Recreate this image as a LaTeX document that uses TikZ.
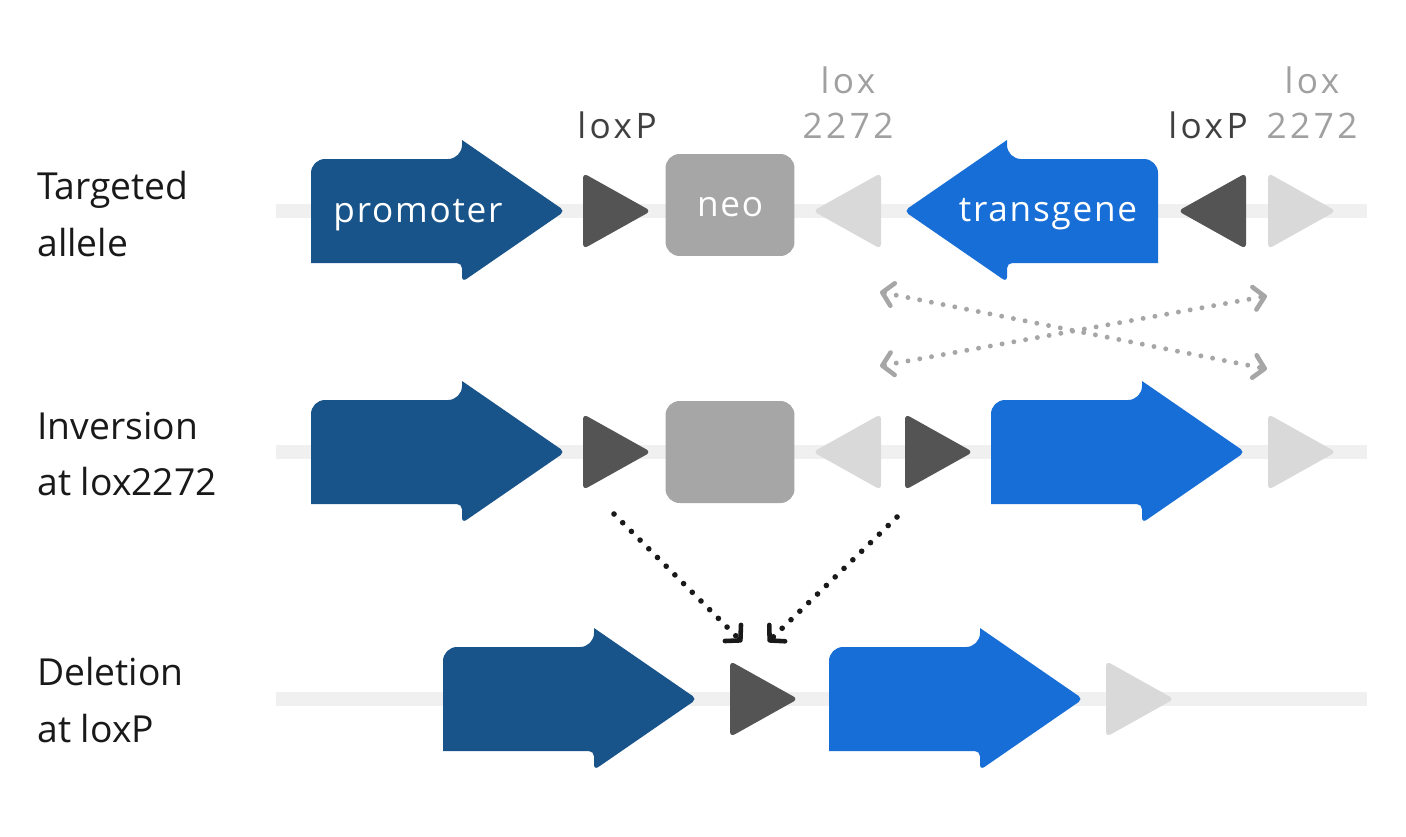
\documentclass[tikz,border=0pt]{standalone}
\usepackage{fontspec}
\setmainfont{Open Sans}
\newfontfamily\sitefont[LetterSpace=10]{Open Sans}
\newfontfamily\genefont[LetterSpace=5]{Open Sans}
\usetikzlibrary{arrows.meta}
\definecolor{promc}{HTML}{18548A}
\definecolor{transc}{HTML}{186ED7}
\definecolor{loxpc}{HTML}{545454}
\definecolor{loxtc}{HTML}{D9D9D9}
\definecolor{neoc}{HTML}{A6A6A6}
\definecolor{backc}{HTML}{EFF0EF}
\definecolor{labpc}{HTML}{404040}
\definecolor{labtc}{HTML}{A0A0A0}

\begin{document}
\begin{tikzpicture}[
    x=0.02cm,y=-0.02cm,
    backbone/.style={draw=backc,line width=8pt},
    gene/.pic={\fill[pic actions] (0,0) [rounded corners=8pt] -- (0,-52) -- (151,-52) [sharp corners] -- (151,-71) [rounded corners=3pt] -- (254,0) -- (151,71) -- (151,52) [sharp corners] -- (0,52) [rounded corners=8pt] -- cycle;},
    site/.pic={\fill[pic actions] (0,0) [rounded corners=3pt] -- (0,-38) -- (68,0) -- (0,38) -- cycle;},
    neobox/.style={fill=neoc,rounded corners=8pt,minimum width=2.58cm,minimum height=2.04cm,inner sep=0pt,text=white},
    genelab/.style={text=white,inner sep=0pt,font=\genefont\fontsize{20}{24}\selectfont},
    sitelab/.style={inner sep=0pt,align=center,font=\sitefont\fontsize{20}{25.5}\selectfont},
    rowlab/.style={anchor=west,inner sep=0pt,align=left,text=black!90,font=\fontsize{21.2}{32.3}\selectfont},
    barb/.style={-{Straight Barb[length=6pt,width=13pt,line width=2.6pt,round]}},
    swap/.style={draw=neoc,line width=2.8pt,line cap=round,dash pattern=on 0pt off 6.8pt,{Straight Barb[length=6pt,width=13pt,line width=2.6pt,round]}-{Straight Barb[length=6pt,width=13pt,line width=2.6pt,round]}},
    merge/.style={draw=black!90,line width=3.2pt,line cap=round,dash pattern=on 0pt off 7pt,barb}
    ]

    \fill[white] (0,0) rectangle (1406,836);
    \useasboundingbox (0,0) rectangle (1406,836);

    % Targeted allele
    \draw[backbone] (276,211) -- (1367,211);
    \pic[fill=promc] at (311,211) {gene};
    \pic[fill=loxpc] at (583,211) {site};
    \node[neobox] (neo) at (730,205) {};
    \pic[fill=loxtc,xscale=-1] at (881,211) {site};
    \pic[fill=transc,xscale=-1] at (1158,211) {gene};
    \pic[fill=loxpc,xscale=-1] at (1246,211) {site};
    \pic[fill=loxtc] at (1268,211) {site};

    \node[genelab] (prom) at (418,215) {promoter};
    \node[genelab] (neolab) at (730,207) {neo};
    \node[genelab] (trans) at (1048,214) {transgene};

    \node[sitelab,text=labpc] (lp1) at (617,125) {loxP};
    \node[sitelab,text=labtc] (lt1) at (848,103) {lox\\2272};
    \node[sitelab,text=labpc] (lp2) at (1208,125) {loxP};
    \node[sitelab,text=labtc] (lt2) at (1312,103) {lox\\2272};

    % Inversion at lox2272
    \draw[backbone] (276,452) -- (1367,452);
    \pic[fill=promc] at (311,452) {gene};
    \pic[fill=loxpc] at (583,452) {site};
    \node[neobox] (neo2) at (730,452) {};
    \pic[fill=loxtc,xscale=-1] at (881,452) {site};
    \pic[fill=loxpc] at (905,452) {site};
    \pic[fill=transc] at (991,452) {gene};
    \pic[fill=loxtc] at (1268,452) {site};

    % Deletion at loxP
    \draw[backbone] (276,699) -- (1367,699);
    \pic[fill=promc] at (443,699) {gene};
    \pic[fill=loxpc] at (730,699) {site};
    \pic[fill=transc] at (829,699) {gene};
    \pic[fill=loxtc] at (1106,699) {site};

    % row labels
    \node[rowlab] (row1) at (37,214) {Targeted\\allele};
    \node[rowlab] (row2) at (37,454) {Inversion\\at lox2272};
    \node[rowlab] (row3) at (37,700) {Deletion\\at loxP};

    % recombination
    \coordinate (s1) at (880,292);
    \coordinate (e1) at (1267,369);
    \coordinate (s2) at (880,366);
    \coordinate (e2) at (1267,296);
    \draw[swap] (s1) -- (e1);
    \draw[swap] (s2) -- (e2);

    \coordinate (d1) at (614,514);
    \coordinate (d2) at (897,517);
    \coordinate (m1) at (742,642);
    \coordinate (m2) at (768,642);
    \draw[merge] (d1) -- (m1);
    \draw[merge] (d2) -- (m2);

\end{tikzpicture}
\end{document}
